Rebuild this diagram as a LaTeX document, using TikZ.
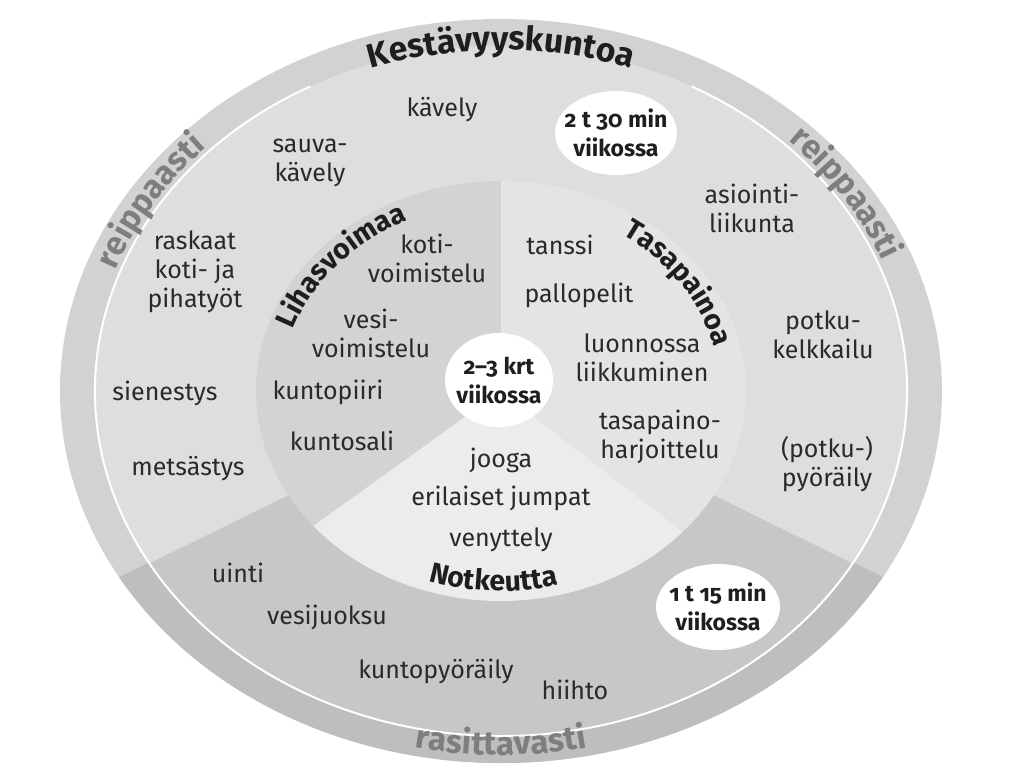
\documentclass[tikz,border=0pt]{standalone}
\usepackage{fontspec}
\setmainfont{Fira Sans}
\newfontfamily\oldnums[Numbers=OldStyle]{Fira Sans}
\usetikzlibrary{decorations.text}

\definecolor{bandlight}{HTML}{D2D2D2}
\definecolor{bandhard}{HTML}{BEBEBE}
\definecolor{ringlight}{HTML}{DEDEDE}
\definecolor{ringhard}{HTML}{C7C7C7}
\definecolor{musclefill}{HTML}{D3D3D3}
\definecolor{balancefill}{HTML}{E4E4E4}
\definecolor{stretchfill}{HTML}{ECECEC}
\definecolor{bodytext}{HTML}{2A2A2A}
\definecolor{headtext}{HTML}{1E1E1E}
\definecolor{pacetext}{HTML}{7E7E7E}

\newcommand\bigheadfont{\fontsize{16.8}{16.8}\selectfont\bfseries}
\newcommand\pacefont{\fontsize{16.5}{16.5}\selectfont\bfseries}
\newcommand\headfont{\fontsize{14.2}{14.2}\selectfont\bfseries}

\begin{document}
\begin{tikzpicture}[x=0.5pt, y=0.5pt,
    every node/.style={font=\fontsize{12.5}{14.5}\selectfont, text=bodytext, align=center, inner sep=0pt},
    bubtext/.style={font=\oldnums\bfseries\fontsize{11.5}{14.5}\selectfont, text=headtext},
    arctext/.style={decorate, decoration={text along path, text align=center, text color=#1}}]
        \useasboundingbox (-501,-386) rectangle (523,391);

        % Outer band and ring, bottom third darker
        \fill[bandlight] (0,0) ellipse[x radius=441, y radius=372];
        \fill[bandhard] (0,0) -- (210:441 and 372) arc[start angle=210, end angle=330, x radius=441, y radius=372] -- cycle;
        \fill[ringlight] (0,0) ellipse[x radius=406, y radius=345];
        \fill[ringhard] (0,0) -- (210:406 and 345) arc[start angle=210, end angle=330, x radius=406, y radius=345] -- cycle;
        \draw[white, line width=1pt] (118:406 and 345) arc[start angle=118, end angle=422, x radius=406, y radius=345];

        % Inner pie: three sectors
        \fill[musclefill] (0,0) -- (90:245 and 210) arc[start angle=90, end angle=220, x radius=245, y radius=210] -- cycle;
        \fill[stretchfill] (0,0) -- (220:245 and 210) arc[start angle=220, end angle=318, x radius=245, y radius=210] -- cycle;
        \fill[balancefill] (0,0) -- (318:245 and 210) arc[start angle=318, end angle=450, x radius=245, y radius=210] -- cycle;

        % White bubbles
        \fill[white] (-2,11) ellipse[x radius=54, y radius=47];
        \fill[white] (115,258) ellipse[x radius=61, y radius=42];
        \fill[white] (217,-216) ellipse[x radius=62, y radius=43];
        \node[bubtext] (centre) at (-2,11) {2–3 krt\\viikossa};
        \node[bubtext] (weektop) at (115,258) {2 t 30 min\\viikossa};
        \node[bubtext] (weekbot) at (217,-216) {1 t 15 min\\viikossa};

        % Curved headings
        \path[arctext=headtext, decoration={text={|\bigheadfont|Kestävyyskuntoa}}] (118:402 and 341) arc[start angle=118, end angle=62, x radius=402, y radius=341];
        \path[arctext=headtext, decoration={text={|\headfont|Lihasvoimaa}}] (170:220 and 188) arc[start angle=170, end angle=107, x radius=220, y radius=188];
        \path[arctext=headtext, decoration={text={|\headfont|Tasapainoa}}] (70:219 and 188) arc[start angle=70, end angle=-2, x radius=219, y radius=188];
        \path[arctext=headtext, decoration={text={|\headfont|Notkeutta}}] (238:233 and 200) arc[start angle=238, end angle=298, x radius=233, y radius=200];
        \path[arctext=pacetext, decoration={text={|\pacefont|reippaasti}}] (175:411 and 350) arc[start angle=175, end angle=122, x radius=411, y radius=350];
        \path[arctext=pacetext, decoration={text={|\pacefont|reippaasti}}] (60:411 and 350) arc[start angle=60, end angle=6, x radius=411, y radius=350];
        \path[arctext=pacetext, decoration={text={|\pacefont|rasittavasti}}] (240:432 and 364) arc[start angle=240, end angle=300, x radius=432, y radius=364];

        % Outer ring, upper part
        \node (kavely) at (-59,281) {kävely};
        \node (sauva) at (-191,228) {sauva-\\kävely};
        \node (piha) at (-306,119) {raskaat\\koti- ja\\pihatyöt};
        \node (sieni) at (-336,-2) {sienestys};
        \node (metsa) at (-313,-78) {metsästys};
        \node (asiointi) at (251,183) {asiointi-\\liikunta};
        \node (kelkka) at (322,56) {potku-\\kelkkailu};
        \node (pyora) at (326,-73) {(potku-)\\pyöräily};

        % Outer ring, lower part
        \node (uinti) at (-263,-182) {uinti};
        \node (juoksu) at (-174,-226) {vesijuoksu};
        \node (kpyora) at (-65,-280) {kuntopyöräily};
        \node (hiihto) at (74,-299) {hiihto};

        % Lihasvoimaa sector
        \node (kotivoim) at (-74,133) {koti-\\voimistelu};
        \node (vesivoim) at (-130,58) {vesi-\\voimistelu};
        \node (piiri) at (-173,-1) {kuntopiiri};
        \node (sali) at (-159,-50) {kuntosali};

        % Tasapainoa sector
        \node (tanssi) at (59,146) {tanssi};
        \node (pallo) at (78,96) {pallopelit};
        \node (luonto) at (141,33) {luonnossa\\liikkuminen};
        \node (tasap) at (159,-46) {tasapaino-\\harjoittelu};

        % Notkeutta sector
        \node (jooga) at (0,-69) {jooga};
        \node (jumpat) at (0,-107) {erilaiset jumpat};
        \node (venyt) at (0,-149) {venyttely};
\end{tikzpicture}
\end{document}
